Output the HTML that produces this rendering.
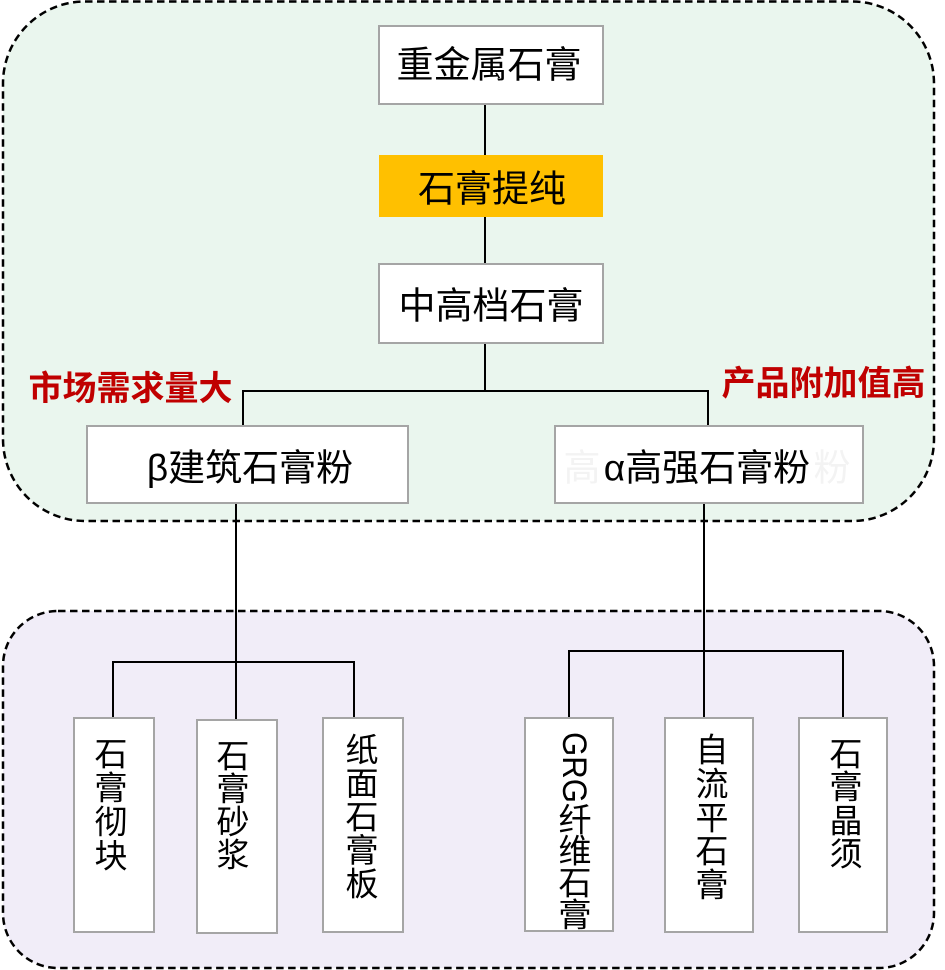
<!DOCTYPE html>
<html>
<head>
<meta charset="utf-8">
<style>
  html, body { margin: 0; padding: 0; background: #ffffff; }
  body { width: 945px; height: 970px; overflow: hidden; }
  svg { display: block; }
  text { font-family: "Liberation Sans", "Noto Sans CJK SC", sans-serif; }
</style>
</head>
<body>
<svg width="945" height="970" viewBox="0 0 945 970" xmlns="http://www.w3.org/2000/svg">
  <!-- Group backgrounds -->
  <rect x="3" y="1.5" width="931" height="519.5" rx="82" ry="82" fill="#eaf6ee" stroke="#000" stroke-width="2.5" stroke-dasharray="7.5 4.5"/>
  <rect x="3" y="611" width="931" height="357" rx="55" ry="55" fill="#f1edf8" stroke="#000" stroke-width="2.5" stroke-dasharray="7.5 4.5"/>

  <!-- Connectors -->
  <g stroke="#000" stroke-width="2" fill="none">
    <line x1="485" y1="104" x2="485" y2="155"/>
    <line x1="485" y1="217" x2="485" y2="264"/>
    <line x1="485" y1="343" x2="485" y2="391"/>
    <line x1="242" y1="391" x2="709" y2="391"/>
    <line x1="243" y1="390" x2="243" y2="426"/>
    <line x1="708" y1="390" x2="708" y2="426"/>

    <line x1="236" y1="503" x2="236" y2="720"/>
    <line x1="112" y1="662" x2="355" y2="662"/>
    <line x1="113" y1="661" x2="113" y2="718"/>
    <line x1="354" y1="661" x2="354" y2="718"/>

    <line x1="704" y1="503" x2="704" y2="718"/>
    <line x1="568" y1="651" x2="844" y2="651"/>
    <line x1="569" y1="650" x2="569" y2="718"/>
    <line x1="843" y1="650" x2="843" y2="718"/>
  </g>

  <!-- Top boxes -->
  <rect x="379" y="26" width="224" height="78" fill="#ffffff" stroke="#a5a5a5" stroke-width="2"/>
  <text x="489" y="65" font-size="37" text-anchor="middle" dominant-baseline="central" fill="#000">重金属石膏</text>

  <rect x="379" y="155" width="224" height="62" fill="#ffc000"/>
  <text x="492" y="189" font-size="37" text-anchor="middle" dominant-baseline="central" fill="#000">石膏提纯</text>

  <rect x="379" y="264" width="224" height="79" fill="#ffffff" stroke="#a5a5a5" stroke-width="2"/>
  <text x="491" y="306" font-size="37" text-anchor="middle" dominant-baseline="central" fill="#000">中高档石膏</text>

  <!-- Labels -->
  <text x="130.5" y="389" font-size="34" font-weight="bold" text-anchor="middle" dominant-baseline="central" fill="#c00000">市场需求量大</text>
  <text x="823.5" y="384" font-size="34" font-weight="bold" text-anchor="middle" dominant-baseline="central" fill="#c00000">产品附加值高</text>

  <!-- Second level boxes -->
  <rect x="87" y="426" width="321" height="77" fill="#ffffff" stroke="#a5a5a5" stroke-width="2"/>
  <text x="250" y="468" font-size="37" text-anchor="middle" dominant-baseline="central" fill="#000">β建筑石膏粉</text>

  <rect x="555" y="426" width="308" height="77" fill="#ffffff" stroke="#a5a5a5" stroke-width="2"/>
  <text x="582" y="468" font-size="37" text-anchor="middle" dominant-baseline="central" fill="#f3f3f3">高</text>
  <text x="832" y="468" font-size="37" text-anchor="middle" dominant-baseline="central" fill="#f3f3f3">粉</text>
  <text x="707" y="468" font-size="37" text-anchor="middle" dominant-baseline="central" fill="#000">α高强石膏粉</text>

  <!-- Bottom boxes -->
  <g fill="#ffffff" stroke="#a5a5a5" stroke-width="2">
    <rect x="74" y="718" width="80" height="214"/>
    <rect x="197" y="720" width="80" height="213"/>
    <rect x="323" y="718" width="80" height="214"/>
    <rect x="525" y="718" width="88" height="213"/>
    <rect x="665" y="718" width="88" height="214"/>
    <rect x="799" y="718" width="88" height="214"/>
  </g>

  <g font-size="33" text-anchor="middle" dominant-baseline="central" fill="#000">
    <!-- 石膏彻块 -->
    <text x="111" y="754">石</text>
    <text x="111" y="788">膏</text>
    <text x="111" y="822">彻</text>
    <text x="111" y="856">块</text>
    <!-- 石膏砂浆 -->
    <text x="233" y="756">石</text>
    <text x="233" y="789">膏</text>
    <text x="233" y="822">砂</text>
    <text x="233" y="855">浆</text>
    <!-- 纸面石膏板 -->
    <text x="362" y="750">纸</text>
    <text x="362" y="783.5">面</text>
    <text x="362" y="817">石</text>
    <text x="362" y="850.5">膏</text>
    <text x="362" y="884">板</text>
    <!-- 自流平石膏 -->
    <text x="712" y="750">自</text>
    <text x="712" y="784">流</text>
    <text x="712" y="818">平</text>
    <text x="712" y="851">石</text>
    <text x="712" y="885">膏</text>
    <!-- 石膏晶须 -->
    <text x="846" y="754">石</text>
    <text x="846" y="787">膏</text>
    <text x="846" y="821">晶</text>
    <text x="846" y="854">须</text>
    <!-- GRG纤维石膏 -->
    <text x="575" y="820">纤</text>
    <text x="575" y="851">维</text>
    <text x="575" y="883">石</text>
    <text x="575" y="915">膏</text>
  </g>
  <text transform="translate(563,732) rotate(90)" x="0" y="0" font-size="34" textLength="71" lengthAdjust="spacingAndGlyphs" fill="#000">GRG</text>
</svg>
</body>
</html>
